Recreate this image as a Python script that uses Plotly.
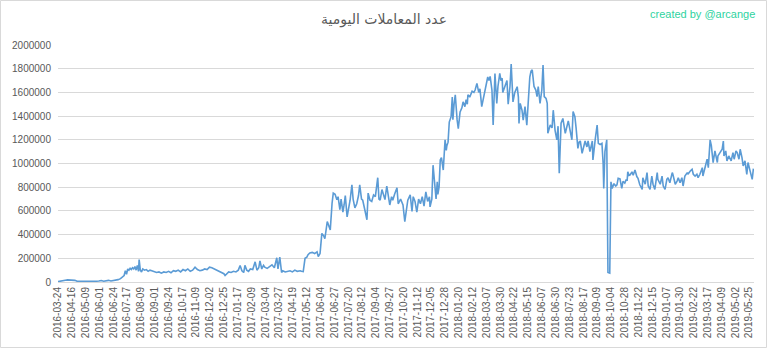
import plotly.graph_objects as go

# Tick labels (every 23rd category on the original category axis)
tick_labels = [
    "2016-03-24", "2016-04-16", "2016-05-09", "2016-06-01", "2016-06-24", "2016-07-17",
    "2016-08-09", "2016-09-01", "2016-09-24", "2016-10-17", "2016-11-09", "2016-12-02",
    "2016-12-25", "2017-01-17", "2017-02-09", "2017-03-04", "2017-03-27", "2017-04-19",
    "2017-05-12", "2017-06-04", "2017-06-27", "2017-07-20", "2017-08-12", "2017-09-04",
    "2017-09-27", "2017-10-20", "2017-11-12", "2017-12-05", "2017-12-28", "2018-01-20",
    "2018-02-12", "2018-03-07", "2018-03-30", "2018-04-22", "2018-05-15", "2018-06-07",
    "2018-06-30", "2018-07-23", "2018-08-17", "2018-09-09", "2018-10-04", "2018-10-28",
    "2018-11-22", "2018-12-15", "2019-01-07", "2019-01-30", "2019-02-22", "2019-03-17",
    "2019-04-09", "2019-05-02", "2019-05-25",
]
tick_step = 23
n_days = 1158

# Sampled series: day number (category index) and daily transactions (thousands)
day = [
    0, 4, 8, 12, 16, 20, 24, 28, 32, 40, 48, 56, 62, 68, 72, 76, 80, 84, 88, 92, 96, 100,
    104, 107, 110, 112, 114, 116, 118, 120, 122, 124, 126, 128, 130, 132, 134, 135, 137, 139,
    141, 144, 147, 150, 153, 156, 160, 164, 168, 172, 176, 180, 184, 188, 192, 196, 200, 204,
    208, 212, 216, 220, 224, 228, 232, 236, 240, 244, 248, 252, 256, 260, 264, 268, 272, 276,
    278, 281, 284, 288, 292, 296, 300, 303, 306, 309, 311, 314, 317, 320, 324, 328, 331, 334,
    336, 339, 342, 344, 348, 352, 356, 360, 364, 366, 369, 372, 374, 378, 382, 386, 390, 394,
    398, 403, 405, 408, 411, 414, 416, 419, 423, 427, 431, 433, 436, 439, 442, 444, 448, 451,
    453, 456, 458, 461, 464, 466, 468, 469, 471, 474, 476, 478, 481, 484, 486, 489, 491, 494,
    497, 500, 502, 505, 507, 510, 514, 516, 519, 522, 525, 528, 532, 534, 536, 539, 542, 544,
    547, 550, 552, 555, 557, 560, 564, 566, 570, 574, 577, 580, 582, 586, 589, 591, 594, 597,
    600, 603, 606, 609, 612, 615, 618, 619, 622, 624, 627, 629, 631, 632, 634, 636, 638, 641,
    644, 646, 647, 649, 651, 654, 656, 657, 659, 661, 664, 666, 669, 672, 674, 677, 679, 681,
    682, 685, 689, 692, 694, 697, 700, 702, 705, 708, 710, 713, 715, 717, 719, 722, 724, 727,
    730, 732, 735, 737, 739, 740, 743, 747, 749, 752, 754, 757, 760, 764, 766, 767, 769, 772,
    774, 777, 780, 782, 785, 787, 789, 792, 795, 797, 799, 802, 805, 807, 809, 812, 814, 815,
    819, 822, 824, 827, 830, 832, 834, 837, 840, 844, 846, 849, 852, 855, 857, 860, 862, 864,
    865, 867, 869, 872, 874, 877, 880, 882, 885, 887, 889, 890, 892, 894, 897, 899, 902, 905,
    907, 908, 910, 913, 915, 918, 920, 922, 925, 928, 930, 932, 935, 938, 940, 943, 945, 947,
    948, 950, 952, 955, 957, 960, 963, 965, 968, 972, 973, 977, 980, 982, 985, 988, 990, 993,
    997, 998, 1002, 1005, 1007, 1010, 1013, 1015, 1018, 1022, 1023, 1027, 1030, 1032, 1035,
    1038, 1040, 1043, 1047, 1048, 1052, 1055, 1057, 1060, 1063, 1065, 1068, 1072, 1073, 1077,
    1080, 1082, 1083, 1085, 1087, 1088, 1090, 1093, 1097, 1098, 1102, 1105, 1107, 1108, 1111,
    1113, 1116, 1120, 1123, 1125, 1128, 1130, 1133, 1135, 1138, 1140, 1143, 1146, 1148, 1151,
    1155, 1157,
]
tx_thousands = [
    3, 5, 8, 15, 18, 16, 17, 14, 6, 5, 4, 5, 6, 8, 12, 7, 10, 14, 9, 12, 16, 20,
    28, 40, 55, 95, 65, 110, 100, 115, 105, 120, 110, 130, 100, 140, 90, 190, 100, 85,
    110, 100, 105, 90, 100, 95, 85, 80, 85, 75, 85, 80, 90, 78, 95, 90, 100, 85,
    105, 95, 110, 90, 100, 125, 105, 95, 100, 110, 105, 125, 120, 110, 100, 95, 80, 70,
    55, 75, 85, 80, 90, 85, 100, 140, 95, 80, 140, 100, 90, 110, 105, 170, 100, 120,
    178, 110, 140, 125, 115, 130, 145, 120, 205, 110, 210, 80, 95, 85, 90, 95, 85, 100,
    90, 95, 90, 88, 200, 210, 230, 245, 250, 240, 255, 215, 240, 410, 390, 365, 510, 470,
    440, 665, 750, 740, 695, 720, 640, 610, 700, 590, 650, 730, 550, 640, 690, 820, 700, 625,
    660, 730, 820, 700, 690, 620, 525, 750, 690, 680, 735, 720, 880, 700, 690, 780, 720, 695,
    810, 700, 650, 720, 690, 740, 795, 660, 700, 650, 510, 620, 690, 735, 595, 720, 680, 590,
    700, 660, 720, 640, 760, 680, 720, 634, 700, 986, 760, 700, 845, 740, 800, 1030, 1050, 945,
    1200, 1110, 1150, 1180, 1350, 1395, 1560, 1370, 1500, 1580, 1370, 1295, 1435, 1470, 1520, 1480, 1540, 1500,
    1580, 1560, 1610, 1600, 1620, 1676, 1600, 1630, 1480, 1560, 1620, 1680, 1730, 1700, 1735, 1620, 1325, 1760,
    1507, 1650, 1760, 1700, 1720, 1600, 1650, 1700, 1500, 1650, 1840, 1520, 1600, 1648, 1560, 1338, 1507, 1450,
    1366, 1480, 1324, 1507, 1730, 1780, 1790, 1650, 1620, 1565, 1650, 1507, 1620, 1830, 1565, 1550, 1507, 1255,
    1325, 1300, 1450, 1280, 1200, 1315, 917, 1340, 1380, 1255, 1300, 1360, 1280, 1200, 1438, 1395, 1300, 1198,
    1128, 1180, 1190, 1086, 1140, 1190, 1140, 1190, 1100, 1150, 1190, 1030, 1150, 1210, 1325, 1170, 1160, 1170,
    1000, 790, 1100, 1200, 80, 75, 845, 790, 830, 810, 820, 875, 870, 790, 850, 835, 860, 860,
    930, 900, 905, 930, 900, 945, 890, 875, 820, 781, 880, 825, 923, 810, 781, 894, 825, 781,
    923, 866, 825, 894, 810, 781, 866, 880, 838, 923, 909, 825, 852, 880, 838,
    880, 810, 894, 923, 909, 937, 951, 909, 894, 909, 880, 909, 965, 894, 980,
    1036, 965, 1092, 1200, 1150, 1078, 1008, 1106, 1008, 1064, 1092, 1120, 1190, 1064, 1106,
    1022, 1064, 1022, 1092, 1036, 1106, 1092, 1036, 1120, 1050, 980, 1022, 908, 1008, 951,
    866, 957,
]
tx = [v * 1000 for v in tx_thousands]

title_text = "عدد المعاملات اليومية"
credit_text = "created by @arcange"

fig = go.Figure()
fig.add_trace(go.Scatter(
    x=day, y=tx, mode="lines",
    line=dict(color="#5B9BD5", width=1.6),
    hoverinfo="skip", showlegend=False,
))

W, H = 768, 349
ml, mr, mt, mb = 58, 14, 45, 67
pw, ph = W - ml - mr, H - mt - mb

def px_x(p):
    return (p - ml) / pw

def px_y(p):
    return (H - mb - p) / ph

fig.update_layout(
    width=W, height=H,
    margin=dict(l=ml, r=mr, t=mt, b=mb, pad=0),
    paper_bgcolor="white", plot_bgcolor="white",
    title=dict(
        text=title_text, x=0.5, xanchor="center", y=1 - 19 / H, yanchor="middle",
        font=dict(family="DejaVu Sans", size=14, color="#595959"),
    ),
    xaxis=dict(
        range=[0, n_days], showgrid=False, zeroline=False,
        showline=True, linecolor="#D9D9D9", linewidth=1,
        tickmode="array",
        tickvals=[i * tick_step for i in range(len(tick_labels))],
        ticktext=tick_labels, tickangle=-90, ticks="",
        tickfont=dict(family="Liberation Sans", size=10, color="#595959"),
    ),
    yaxis=dict(
        range=[0, 2000000], dtick=200000, tickformat="d",
        showgrid=True, gridcolor="#D9D9D9", gridwidth=1,
        zeroline=False, showline=False, ticks="",
        ticklabelstandoff=6,
        tickfont=dict(family="Liberation Sans", size=10, color="#595959"),
    ),
    annotations=[dict(
        text=credit_text, xref="paper", yref="paper",
        x=px_x(757), y=px_y(14), xanchor="right", yanchor="middle",
        showarrow=False, font=dict(family="Liberation Sans", size=11, color="#2ED3A0"),
    )],
    shapes=[dict(
        type="rect", xref="paper", yref="paper",
        x0=px_x(0.5), x1=px_x(766.5), y0=px_y(347.5), y1=px_y(0.5),
        line=dict(color="#D9D9D9", width=1), fillcolor="rgba(0,0,0,0)", layer="below",
    )],
)

fig.write_html("out.html")
